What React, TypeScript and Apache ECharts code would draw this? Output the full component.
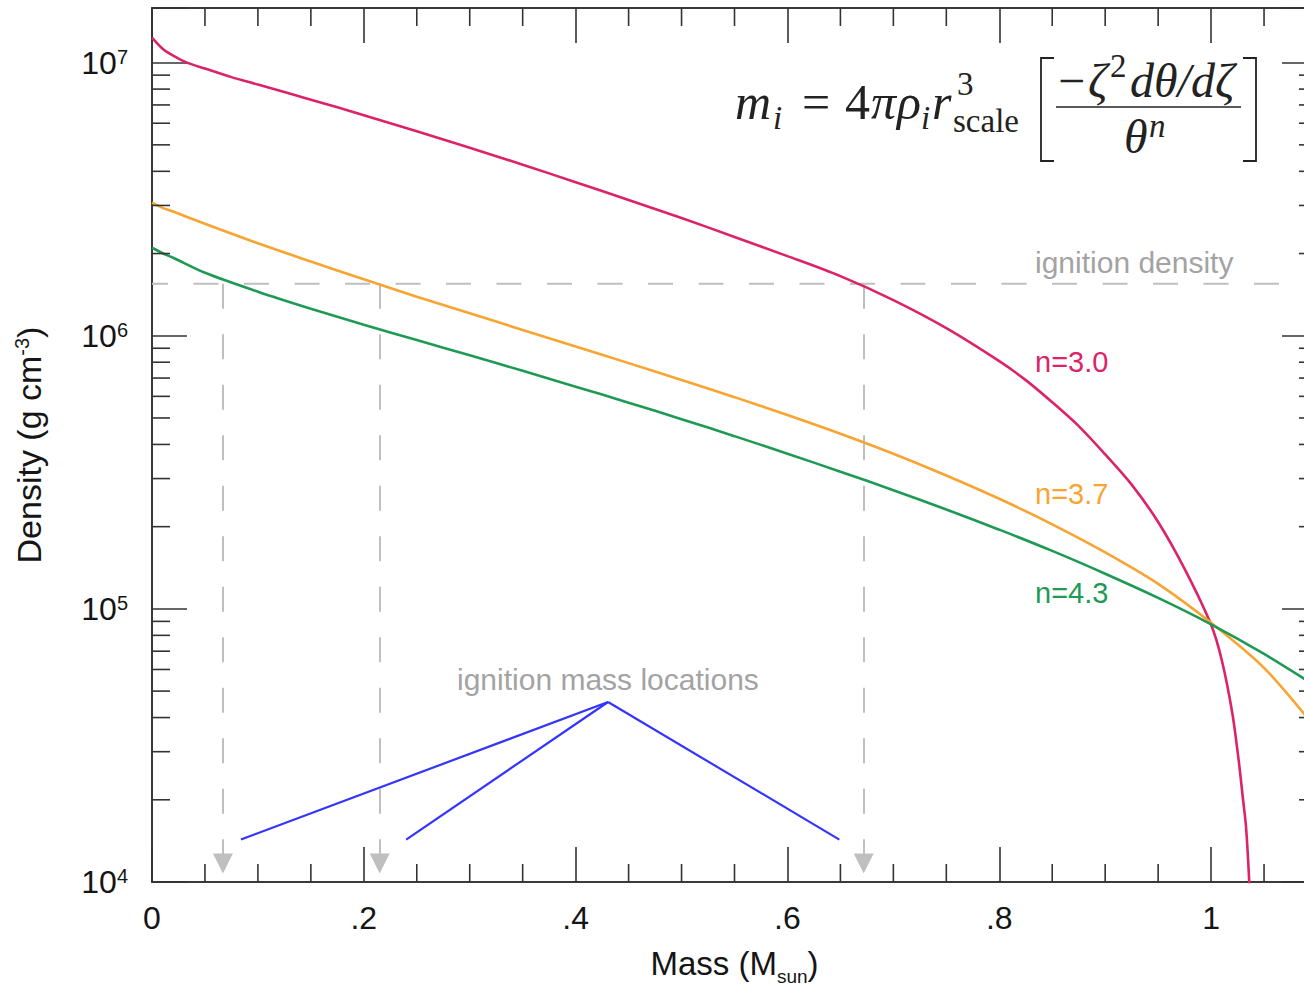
import React, { useEffect, useRef } from 'react';
import * as echarts from 'echarts';

// ---------- data ----------
const xTickValues = [0, 0.2, 0.4, 0.6, 0.8, 1];
const xTickLabels = ['0', '.2', '.4', '.6', '.8', '1'];
const xMinorTicks = [0.05, 0.1, 0.15, 0.25, 0.3, 0.35, 0.45, 0.5, 0.55, 0.65, 0.7, 0.75, 0.85, 0.9, 0.95, 1.05];
const yDecades = [1e4, 1e5, 1e6, 1e7];
const yDecadeExponents = ['4', '5', '6', '7'];
const yMinorTicks = [
  2e4, 3e4, 4e4, 5e4, 6e4, 7e4, 8e4, 9e4,
  2e5, 3e5, 4e5, 5e5, 6e5, 7e5, 8e5, 9e5,
  2e6, 3e6, 4e6, 5e6, 6e6, 7e6, 8e6, 9e6,
];
const X_MIN = 0;
const X_MAX = 1.1;
const Y_MIN = 1e4;
const Y_MAX = 1.585e7;

const massN30 = [0, 0.01, 0.02, 0.033, 0.05, 0.075, 0.1, 0.15, 0.2, 0.25, 0.3, 0.35, 0.4, 0.45, 0.5, 0.55, 0.6, 0.65, 0.7, 0.75, 0.8, 0.825, 0.85, 0.875, 0.9, 0.925, 0.95, 0.975, 1.0, 1.01, 1.02, 1.026, 1.03, 1.033, 1.036, 1.038];
const densityN30 = [1.235e7, 1.125e7, 1.061e7, 1.0e7, 9.51e6, 8.85e6, 8.31e6, 7.32e6, 6.42e6, 5.61e6, 4.88e6, 4.23e6, 3.65e6, 3.14e6, 2.7e6, 2.3e6, 1.957e6, 1.653e6, 1.35e6, 1.066e6, 8.07e5, 6.88e5, 5.71e5, 4.67e5, 3.68e5, 2.85e5, 2.08e5, 1.4e5, 8.74e4, 6.51e4, 4.16e4, 2.8e4, 2.03e4, 1.59e4, 1.0e4, 6.0e3];

const massN37 = [0, 0.01, 0.02, 0.05, 0.1, 0.15, 0.2, 0.25, 0.3, 0.35, 0.4, 0.45, 0.5, 0.55, 0.6, 0.65, 0.7, 0.75, 0.8, 0.85, 0.9, 0.95, 1.0, 1.05, 1.1];
const densityN37 = [3.07e6, 2.94e6, 2.85e6, 2.57e6, 2.18e6, 1.87e6, 1.61e6, 1.39e6, 1.21e6, 1.05e6, 9.13e5, 7.94e5, 6.89e5, 5.96e5, 5.13e5, 4.38e5, 3.7e5, 3.08e5, 2.53e5, 2.04e5, 1.61e5, 1.235e5, 8.89e4, 6.08e4, 3.61e4];

const massN43 = [0, 0.01, 0.02, 0.05, 0.1, 0.15, 0.2, 0.25, 0.3, 0.35, 0.4, 0.45, 0.5, 0.55, 0.6, 0.65, 0.7, 0.75, 0.8, 0.85, 0.9, 0.95, 1.0, 1.05, 1.1];
const densityN43 = [2.1e6, 2.005e6, 1.93e6, 1.7e6, 1.45e6, 1.256e6, 1.097e6, 9.65e5, 8.48e5, 7.44e5, 6.51e5, 5.69e5, 4.95e5, 4.29e5, 3.7e5, 3.18e5, 2.72e5, 2.31e5, 1.95e5, 1.63e5, 1.345e5, 1.097e5, 8.78e4, 6.84e4, 5.18e4];

const ignitionDensity = 1.55e6;
const ignitionMasses = [0.067, 0.215, 0.672];
const arrowEndDensity = 1.17e4;

const pointerApex = [0.4306, 4.56e4];
const pointerTargets = [
  [0.084, 1.43e4],
  [0.24, 1.43e4],
  [0.649, 1.43e4],
];

const curveNames = ['n=3.0', 'n=3.7', 'n=4.3'];

// ---------- styles ----------
const SANS = '"Liberation Sans", Arial, Helvetica, sans-serif';
const SERIF = '"Liberation Serif", "DejaVu Serif", serif';
const C_N30 = '#dc2369';
const C_N37 = '#f7a432';
const C_N43 = '#1f9a55';
const C_BLUE = '#3434ff';
const C_DASH = '#bfbfbf';
const C_ARROW = '#a6a6a6';
const C_NOTE = '#a3a3a3';
const C_AXIS = '#3a3a3a';
const C_TEXT = '#151515';

function pairs(xs: number[], ys: number[]) {
  return xs.map((x, i) => [x, ys[i]]);
}

function mathText(text: string, x: number, baseline: number, size: number, italic: boolean) {
  return {
    type: 'text',
    x,
    y: baseline - 0.3375 * size,
    silent: true,
    style: {
      text,
      fontSize: size,
      lineHeight: size,
      fontFamily: SERIF,
      fontStyle: italic ? 'italic' : 'normal',
      fill: '#222222',
      align: 'left',
      verticalAlign: 'middle',
      textAlign: 'left',
      textVerticalAlign: 'middle',
    },
  };
}

function noteText(text: string, x: number, y: number, size: number, color: string) {
  return {
    type: 'text',
    x,
    y,
    silent: true,
    style: {
      text,
      fontSize: size,
      fontFamily: SANS,
      fill: color,
      align: 'left',
      verticalAlign: 'middle',
      textAlign: 'left',
      textVerticalAlign: 'middle',
    },
  };
}

function buildOption() {
  const F = 50;
  const FF = 48;
  const S = 33;
  const graphic: any[] = [
    // formula: m_i = 4 pi rho_i r^3_scale [ -zeta^2 dtheta/dzeta / theta^n ]
    mathText('m', 735, 119, F, true),
    mathText('i', 773, 129, S, true),
    mathText('=', 802, 119, F, false),
    mathText('4', 845, 119, F, false),
    mathText('π', 871, 119, F, true),
    mathText('ρ', 897, 119, F, true),
    mathText('i', 921, 129, S, true),
    mathText('r', 932, 119, F, true),
    mathText('3', 957, 95, S, false),
    mathText('scale', 953, 132, S, false),
    mathText('−', 1058, 97, FF, false),
    mathText('ζ', 1088, 97, FF, true),
    mathText('2', 1110, 77, S, false),
    mathText('dθ/dζ', 1130, 97, FF, true),
    mathText('θ', 1124, 153, FF, true),
    mathText('n', 1149, 137, S, true),
    {
      type: 'line',
      silent: true,
      shape: { x1: 1056, y1: 107, x2: 1241, y2: 107 },
      style: { stroke: '#222222', lineWidth: 1.6 },
    },
    {
      type: 'polyline',
      silent: true,
      shape: { points: [[1054, 58], [1041, 58], [1041, 161], [1054, 161]] },
      style: { stroke: '#222222', lineWidth: 1.8, fill: 'none' },
    },
    {
      type: 'polyline',
      silent: true,
      shape: { points: [[1243, 58], [1256, 58], [1256, 161], [1243, 161]] },
      style: { stroke: '#222222', lineWidth: 1.8, fill: 'none' },
    },
    noteText('ignition density', 1035, 262, 30, C_NOTE),
    noteText('ignition mass locations', 457, 679, 30, C_NOTE),
    noteText(curveNames[0], 1035, 362, 29, C_N30),
    noteText(curveNames[1], 1035, 494, 29, C_N37),
    noteText(curveNames[2], 1035, 593, 29, C_N43),
  ];

  const xLabelFormatter = (v: number) => {
    const i = xTickValues.findIndex((t) => Math.abs(t - v) < 1e-9);
    return i >= 0 ? xTickLabels[i] : '';
  };
  const yLabelFormatter = (v: number) => {
    const i = yDecades.findIndex((d) => Math.abs(d - v) / d < 1e-6);
    return i >= 0 ? '{b|10}{sup|' + yDecadeExponents[i] + '}' : '';
  };

  const majorTick = { show: true, inside: true, length: 35, lineStyle: { color: '#333', width: 1.6 } };
  const axisLine = { show: true, onZero: false, lineStyle: { color: C_AXIS, width: 2 } };

  const tickStyle = { stroke: '#333', lineWidth: 1.6 };

  return {
    animation: false,
    backgroundColor: '#ffffff',
    grid: {
      left: 152,
      top: 8,
      width: 1165,
      height: 874,
      containLabel: false,
      outerBoundsMode: 'none',
    },
    xAxis: [
      {
        type: 'value',
        position: 'bottom',
        min: X_MIN,
        max: X_MAX,
        interval: 0.2,
        axisLine,
        axisTick: majorTick,
        splitLine: { show: false },
        axisLabel: {
          margin: 20,
          fontSize: 32,
          fontFamily: SANS,
          color: C_TEXT,
          formatter: xLabelFormatter,
          showMaxLabel: false,
        },
        name: '{b|Mass (M}{sub|sun}{b|)}',
        nameLocation: 'middle',
        nameGap: 65,
        nameTextStyle: {
          fontFamily: SANS,
          fontSize: 33,
          color: C_TEXT,
          rich: {
            b: { fontFamily: SANS, fontSize: 33, lineHeight: 33, color: C_TEXT, verticalAlign: 'middle' },
            sub: { fontFamily: SANS, fontSize: 19, lineHeight: 16, color: C_TEXT, verticalAlign: 'top', padding: [20, 0, 0, 0] },
          },
        },
      },
      {
        type: 'value',
        position: 'top',
        min: X_MIN,
        max: X_MAX,
        interval: 0.2,
        axisLine,
        axisTick: majorTick,
        splitLine: { show: false },
        axisLabel: { show: false },
      },
    ],
    yAxis: [
      {
        type: 'log',
        logBase: 10,
        position: 'left',
        min: Y_MIN,
        max: Y_MAX,
        axisLine,
        axisTick: majorTick,
        splitLine: { show: false },
        minorTick: { show: false },
        axisLabel: {
          margin: 24,
          fontSize: 32,
          fontFamily: SANS,
          color: C_TEXT,
          formatter: yLabelFormatter,
          rich: {
            b: { fontFamily: SANS, fontSize: 32, lineHeight: 32, color: C_TEXT, verticalAlign: 'middle' },
            sup: { fontFamily: SANS, fontSize: 20, lineHeight: 20, color: C_TEXT, verticalAlign: 'top', padding: [0, 0, 20, 0] },
          },
        },
        name: '{b|Density (g cm}{sup|-3}{b|)}',
        nameLocation: 'middle',
        nameRotate: 90,
        nameGap: 106,
        nameTextStyle: {
          fontFamily: SANS,
          fontSize: 34,
          color: C_TEXT,
          rich: {
            b: { fontFamily: SANS, fontSize: 34, lineHeight: 34, color: C_TEXT, verticalAlign: 'middle' },
            sup: { fontFamily: SANS, fontSize: 20, lineHeight: 20, color: C_TEXT, verticalAlign: 'top', padding: [0, 0, 20, 0] },
          },
        },
      },
      {
        type: 'log',
        logBase: 10,
        position: 'right',
        min: Y_MIN,
        max: Y_MAX,
        axisLine,
        axisTick: majorTick,
        splitLine: { show: false },
        minorTick: { show: false },
        axisLabel: { show: false },
      },
    ],
    graphic,
    series: [
      {
        type: 'custom',
        name: 'x minor ticks',
        silent: true,
        clip: false,
        xAxisIndex: 0,
        yAxisIndex: 0,
        z: 5,
        data: xMinorTicks.map((v) => [v, Y_MIN]),
        renderItem: (params: any, api: any) => {
          const v = api.value(0);
          const pb = api.coord([v, Y_MIN]);
          const pt = api.coord([v, Y_MAX]);
          return {
            type: 'group',
            children: [
              { type: 'line', shape: { x1: pb[0], y1: pb[1], x2: pb[0], y2: pb[1] - 18 }, style: tickStyle },
              { type: 'line', shape: { x1: pt[0], y1: pt[1], x2: pt[0], y2: pt[1] + 18 }, style: tickStyle },
            ],
          };
        },
      },
      {
        type: 'custom',
        name: 'y minor ticks',
        silent: true,
        clip: false,
        xAxisIndex: 0,
        yAxisIndex: 0,
        z: 5,
        data: yMinorTicks.map((v) => [X_MIN, v]),
        renderItem: (params: any, api: any) => {
          const v = api.value(1);
          const pl = api.coord([X_MIN, v]);
          const pr = api.coord([X_MAX, v]);
          return {
            type: 'group',
            children: [
              { type: 'line', shape: { x1: pl[0], y1: pl[1], x2: pl[0] + 18, y2: pl[1] }, style: tickStyle },
              { type: 'line', shape: { x1: pr[0], y1: pr[1], x2: pr[0] - 18, y2: pr[1] }, style: tickStyle },
            ],
          };
        },
      },
      {
        type: 'line',
        name: 'ignition density',
        silent: true,
        z: 1,
        symbol: 'none',
        data: [[X_MIN, ignitionDensity], [X_MAX, ignitionDensity]],
        lineStyle: { color: C_DASH, width: 2, type: [25, 25.5], dashOffset: 9 },
      },
      {
        type: 'lines',
        name: 'ignition mass arrows',
        coordinateSystem: 'cartesian2d',
        silent: true,
        z: 1,
        symbol: ['none', 'triangle'],
        symbolSize: [12, 20],
        lineStyle: { color: C_DASH, width: 2, type: [25, 25.5], opacity: 1 },
        itemStyle: { color: C_ARROW },
        data: ignitionMasses.map((m) => ({
          coords: [[m, ignitionDensity], [m, arrowEndDensity]],
        })),
      },
      {
        type: 'line',
        name: curveNames[0],
        z: 3,
        symbol: 'none',
        smooth: 0.3,
        data: pairs(massN30, densityN30),
        lineStyle: { color: C_N30, width: 2.6 },
        itemStyle: { color: C_N30 },
      },
      {
        type: 'line',
        name: curveNames[1],
        z: 3,
        symbol: 'none',
        smooth: 0.3,
        data: pairs(massN37, densityN37),
        lineStyle: { color: C_N37, width: 2.6 },
        itemStyle: { color: C_N37 },
      },
      {
        type: 'line',
        name: curveNames[2],
        z: 3,
        symbol: 'none',
        smooth: 0.3,
        data: pairs(massN43, densityN43),
        lineStyle: { color: C_N43, width: 2.6 },
        itemStyle: { color: C_N43 },
      },
      {
        type: 'lines',
        name: 'ignition mass pointers',
        coordinateSystem: 'cartesian2d',
        silent: true,
        z: 4,
        lineStyle: { color: C_BLUE, width: 2.2, opacity: 1 },
        data: pointerTargets.map((t) => ({ coords: [pointerApex, t] })),
      },
    ],
  };
}

export default function App() {
  const ref = useRef<HTMLDivElement>(null);
  useEffect(() => {
    document.body.style.margin = '0';
    if (!ref.current) return;
    const chart = echarts.init(ref.current, undefined, { renderer: 'svg' });
    chart.setOption(buildOption() as any);
    return () => {
      chart.dispose();
    };
  }, []);
  return (
    <div
      ref={ref}
      style={{ position: 'absolute', left: 0, top: 0, width: 1304, height: 988, background: '#fff' }}
    />
  );
}
